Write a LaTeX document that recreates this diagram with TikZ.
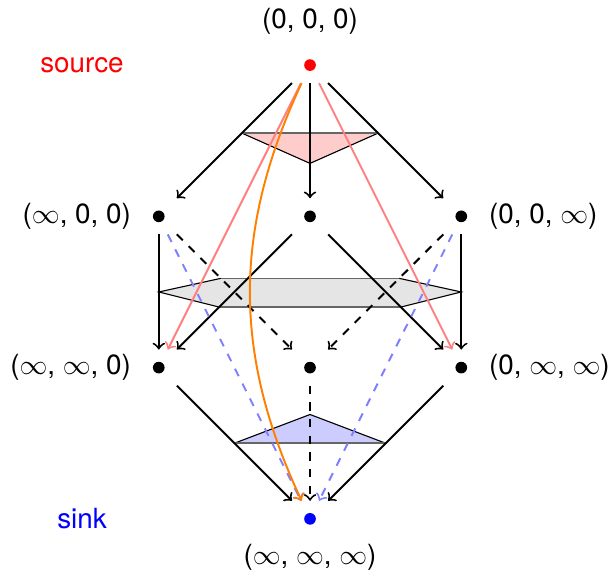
\documentclass[tikz,border=0pt]{standalone}
\usepackage{fontspec}
\setmainfont{TeX Gyre Heros}
\usetikzlibrary{positioning, calc}

\begin{document}
\begin{tikzpicture}[
    vtx/.style={rectangle, minimum size=12.6pt, inner sep=0pt,
                path picture={\fill[#1] (path picture bounding box.center) circle (2.1pt);}},
    vtx/.default=black,
    arr/.style={->, line width=0.7pt},
    cut/.style={thin, draw=black},
    rim/.style={black!60, semithick},
    node distance=41.4pt and 41.4pt
  ]
  % lattice of vertices
  \node[vtx=red] (s) {};
  \node[vtx, below left=of s] (a1) {};
  \node[vtx, below=of s] (b1) {};
  \node[vtx, below right=of s] (c1) {};
  \node[vtx, below=of a1] (a2) {};
  \node[vtx, below=of b1] (b2) {};
  \node[vtx, below=of c1] (c2) {};
  \node[vtx=blue, below=of b2] (t) {};

  \useasboundingbox ($(s)+(-111.5pt,23.4pt)$) rectangle ($(s)+(108.6pt,-183.8pt)$);

  % labels
  \node[above=1pt of s] (ls) {(0, 0, 0)};
  \node[left=0pt of a1] (la1) {(\(\infty\), 0, 0)};
  \node[right=0pt of c1] (lc1) {(0, 0, \(\infty\))};
  \node[left=0pt of a2] (la2) {(\(\infty\), \(\infty\), 0)};
  \node[right=0pt of c2] (lc2) {(0, \(\infty\), \(\infty\))};
  \node[below=-1pt of t] (lt) {(\(\infty\), \(\infty\), \(\infty\))};
  \node[text=red, left=57pt of s] (src) {source};
  \node[text=blue] (snk) at (src |- t) {sink};

  % cuts
  \fill[red!20] ($(s)!0.45!(a1)$) -- ($(s)!0.65!(b1)$) -- ($(s)!0.45!(c1)$) -- cycle;
  \draw[cut] ($(s)!0.45!(a1)$) -- ($(s)!0.65!(b1)$) -- ($(s)!0.45!(c1)$);
  \draw[rim] ($(s)!0.45!(a1)$) -- ($(s)!0.45!(c1)$);

  \fill[gray!20] ($(a1)!0.5!(a2)$) -- ($(a1)!0.41!(b2)$) -- ($(c1)!0.41!(b2)$)
    -- ($(c1)!0.5!(c2)$) -- ($(b1)!0.6!(c2)$) -- ($(b1)!0.6!(a2)$) -- cycle;
  \draw[cut] ($(a1)!0.41!(b2)$) -- ($(a1)!0.5!(a2)$) -- ($(b1)!0.6!(a2)$);
  \draw[cut] ($(c1)!0.41!(b2)$) -- ($(c1)!0.5!(c2)$) -- ($(b1)!0.6!(c2)$);
  \draw[rim] ($(a1)!0.41!(b2)$) -- ($(c1)!0.41!(b2)$);
  \draw[rim] ($(b1)!0.6!(a2)$) -- ($(b1)!0.6!(c2)$);

  \fill[blue!20] ($(a2)!0.5!(t)$) -- ($(b2)!0.31!(t)$) -- ($(c2)!0.5!(t)$) -- cycle;
  \draw[cut] ($(a2)!0.5!(t)$) -- ($(b2)!0.31!(t)$) -- ($(c2)!0.5!(t)$);
  \draw[rim] ($(a2)!0.5!(t)$) -- ($(c2)!0.5!(t)$);

  % solid edges
  \draw[arr] (s) -- (a1);
  \draw[arr] (s) -- (b1);
  \draw[arr] (s) -- (c1);
  \draw[arr] (a1) -- (a2);
  \draw[arr] (b1) -- (a2);
  \draw[arr] (b1) -- (c2);
  \draw[arr] (c1) -- (c2);
  \draw[arr] (a2) -- (t);
  \draw[arr] (c2) -- (t);

  % dashed edges
  \draw[arr, dashed] (a1) -- (b2);
  \draw[arr, dashed] (c1) -- (b2);
  \draw[arr, dashed] (b2) -- (t);

  % paths
  \draw[arr, red!50] (s) -- (a2);
  \draw[arr, red!50] (s) -- (c2);
  \draw[arr, blue!50, dashed] (a1) -- (t);
  \draw[arr, blue!50, dashed] (c1) -- (t);
  \draw[arr, orange] (s) to[bend right=25] (t);
\end{tikzpicture}
\end{document}
